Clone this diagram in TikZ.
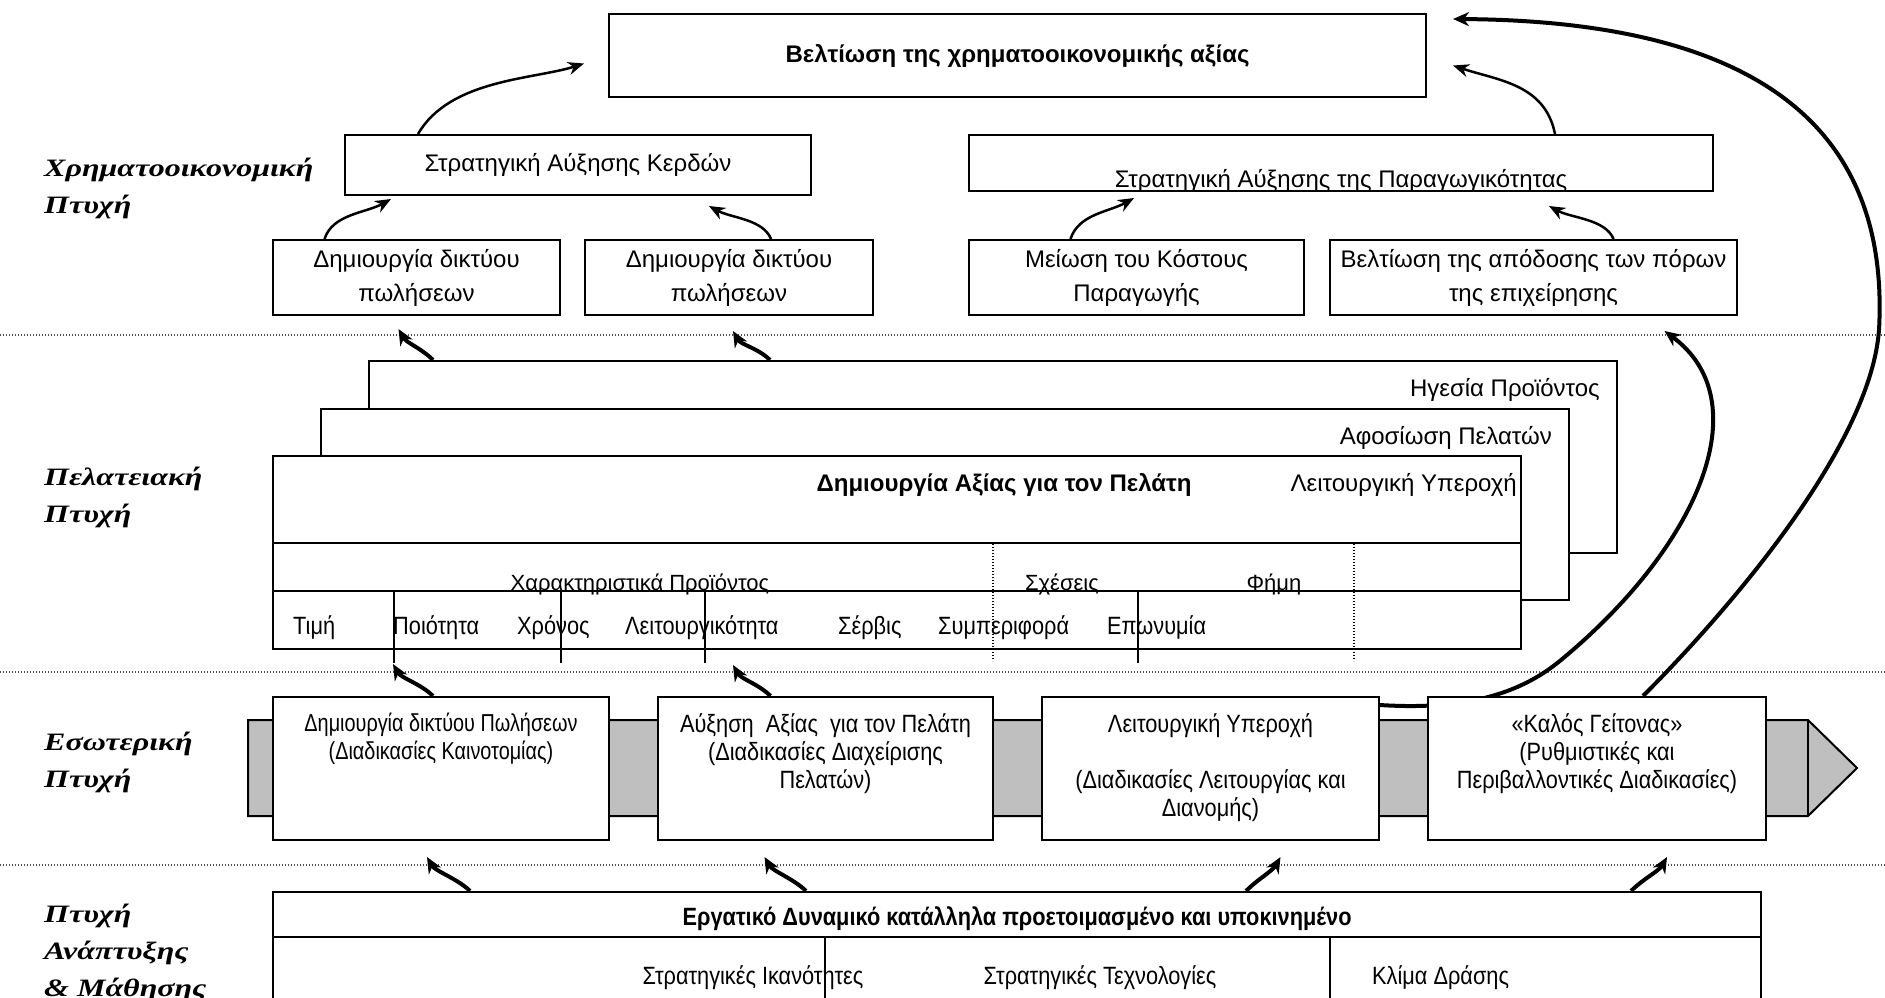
\documentclass[tikz,border=0pt]{standalone}
\usepackage{fontspec}
\setmainfont{Liberation Sans}
\newfontfamily\narrowfont{Liberation Sans}[FakeStretch=0.87]
\newfontfamily\narrowerfont{Liberation Sans}[FakeStretch=0.81]
\newfontfamily\sidefont{Liberation Serif}[FakeStretch=1.28]
\usetikzlibrary{arrows.meta, calc, backgrounds}

\begin{document}
\begin{tikzpicture}[x=1pt, y=-1pt,
	box/.style={rectangle, draw, line width=2pt, fill=white, inner sep=0pt, align=center, font=\fontsize{24}{34}\selectfont},
	boldtext/.style={font=\bfseries\fontsize{24}{34}\selectfont, inner sep=0pt},
	plaintext/.style={font=\fontsize{24}{34}\selectfont, inner sep=0pt},
	celltext/.style={font=\fontsize{22}{27}\selectfont, inner sep=0pt},
	narrowtext/.style={font=\narrowfont\fontsize{25}{28}\selectfont, inner sep=0pt},
	proclabel/.style={anchor=north, yshift=-17pt, align=center, inner sep=0pt, font=\narrowfont\fontsize{25}{28}\selectfont},
	cornerlabel/.style={anchor=north east, xshift=-18pt, yshift=-18pt, inner sep=0pt, font=\fontsize{24}{34}\selectfont},
	side/.style={anchor=west, align=left, inner sep=0pt, font=\sidefont\bfseries\itshape\fontsize{25}{37}\selectfont},
	arrow/.style={-{Stealth[length=16pt, width=13pt]}, line width=2.5pt},
	fatarrow/.style={-{Stealth[length=16pt, width=14pt]}, line width=4pt},
	divider/.style={line width=1.3pt, black!70, dash pattern=on 1.3pt off 1.7pt}
	]
	\useasboundingbox (0,0) rectangle (1885,997);

	% side titles
	\node[side] (fin) at (44,188) {Χρηματοοικονομική\\Πτυχή};
	\node[side] (cust) at (44,497) {Πελατειακή\\Πτυχή};
	\node[side] (intl) at (44,762) {Εσωτερική\\Πτυχή};
	\node[side] (grow) at (44,953) {Πτυχή\\Ανάπτυξης\\\& Μάθησης};

	% financial
	\node[box, font=\bfseries\fontsize{24}{34}\selectfont, minimum width=817pt, minimum height=83pt] (value) at (1017.5,55.5) {Βελτίωση της χρηματοοικονομικής αξίας};
	\node[box, minimum width=466pt, minimum height=60pt] (kerdos) at (578,165) {Στρατηγική Αύξησης Κερδών};
	\node[box, minimum width=744pt, minimum height=56pt] (paragog) at (1341,163) {\raisebox{-24pt}[0pt][0pt]{Στρατηγική Αύξησης της Παραγωγικότητας}};
	\node[box, minimum width=287pt, minimum height=75pt] (net1) at (416.5,277.5) {Δημιουργία δικτύου\\πωλήσεων};
	\node[box, minimum width=288pt, minimum height=75pt] (net2) at (729,277.5) {Δημιουργία δικτύου\\πωλήσεων};
	\node[box, minimum width=335pt, minimum height=75pt] (cost) at (1136.5,277.5) {Μείωση του Κόστους\\Παραγωγής};
	\node[box, minimum width=407pt, minimum height=75pt] (perf) at (1533.5,277.5) {Βελτίωση της απόδοσης των πόρων\\της επιχείρησης};

	% customer
	\node[box, minimum width=1248pt, minimum height=192pt, label={[cornerlabel]north east:{Ηγεσία Προϊόντος}}] (hegesia) at (993,457) {};
	\node[box, minimum width=1248pt, minimum height=191pt, label={[cornerlabel]north east:{Αφοσίωση Πελατών}}] (afosiosi) at (945,504.5) {};
	\node[box, minimum width=1248pt, minimum height=193pt] (axia) at (897,552.5) {};
	\coordinate (row1) at ($(axia.north west)+(0,88)$);
	\coordinate (row2) at ($(axia.north west)+(0,136)$);
	\draw[line width=2pt] (row1) -- (row1 -| axia.east);
	\draw[line width=2pt] (row2) -- (row2 -| axia.east);
	\node[boldtext] (axiatitle) at (1004,485) {Δημιουργία Αξίας για τον Πελάτη};
	\node[plaintext, anchor=east] (leitourg) at (1517,485) {Λειτουργική Υπεροχή};
	\node[celltext, anchor=base] (charakt) at (640,590) {Χαρακτηριστικά Προϊόντος};
	\node[celltext, anchor=base] (sxeseis) at (1062,590) {Σχέσεις};
	\node[celltext, anchor=base] (fimi) at (1274,590) {Φήμη};
	\node[narrowtext, anchor=base west] (timi) at (293,634) {Τιμή};
	\node[narrowtext, anchor=base west] (poiotita) at (393,634) {Ποιότητα};
	\node[narrowtext, anchor=base west] (chronos) at (517,634) {Χρόνος};
	\node[narrowtext, anchor=base west] (leitourgikot) at (625,634) {Λειτουργικότητα};
	\node[narrowtext, anchor=base west] (servis) at (838,634) {Σέρβις};
	\node[narrowtext, anchor=base west] (symper) at (938,634) {Συμπεριφορά};
	\node[narrowtext, anchor=base west] (eponymia) at (1107,634) {Επωνυμία};
	\draw[line width=1.5pt] (394,592) -- (394,663);
	\draw[line width=1.5pt] (561,592) -- (561,663);
	\draw[line width=1.5pt] (705,592) -- (705,663);
	\draw[line width=1.5pt] (1138,592) -- (1138,663);
	\draw[divider, black] (993,544) -- (993,661);
	\draw[divider, black] (1354,544) -- (1354,661);

	% internal
	\node[box, minimum width=336pt, minimum height=143pt, label={[proclabel, font=\narrowerfont\fontsize{24.5}{28}\selectfont]north:{Δημιουργία δικτύου Πωλήσεων\\(Διαδικασίες Καινοτομίας)}}] (inn1) at (441,768.5) {};
	\node[box, minimum width=335pt, minimum height=143pt, label={[proclabel]north:{Αύξηση~ Αξίας~ για τον Πελάτη\\(Διαδικασίες Διαχείρισης\\Πελατών)}}] (inn2) at (825.5,768.5) {};
	\node[box, minimum width=337pt, minimum height=143pt, label={[proclabel]north:{Λειτουργική Υπεροχή\\[28pt](Διαδικασίες Λειτουργίας και\\Διανομής)}}] (inn3) at (1210.5,768.5) {};
	\node[box, minimum width=338pt, minimum height=143pt, label={[proclabel]north:{«Καλός Γείτονας»\\(Ρυθμιστικές και\\Περιβαλλοντικές Διαδικασίες)}}] (inn4) at (1597,768.5) {};

	% learning and growth
	\node[box, minimum width=1488pt, minimum height=118pt] (learn) at (1017,951) {};
	\coordinate (row3) at ($(learn.north west)+(0,46)$);
	\draw[line width=2pt] (row3) -- (row3 -| learn.east);
	\node[font=\narrowfont\bfseries\fontsize{25}{28}\selectfont, inner sep=0pt] (workforce) at (1017,919) {Εργατικό Δυναμικό κατάλληλα προετοιμασμένο και υποκινημένο};
	\draw[line width=1.5pt] (825,938) -- (825,1010);
	\draw[line width=1.5pt] (1330,938) -- (1330,1010);
	\node[narrowtext, anchor=base] (ikanot) at (753,984) {Στρατηγικές Ικανότητες};
	\node[narrowtext, anchor=base] (techn) at (1100,984) {Στρατηγικές Τεχνολογίες};
	\node[narrowtext, anchor=base west] (klima) at (1372,984) {Κλίμα Δράσης};

	% arrows between levels
	\draw[arrow] ($(kerdos.north)+(-160,0)$) .. controls +(32,-55) and +(-50,16) .. ($(value.west)+(-24,8)$);
	\draw[arrow] ($(paragog.north)+(214,0)$) .. controls +(-10,-50) and +(45,15) .. ($(value.east)+(26,10)$);
	\draw[arrow] ($(net1.north)+(-92,0)$) .. controls +(8,-25) and +(-25,14) .. ($(kerdos.south)+(-187,3)$);
	\draw[arrow] ($(net2.north)+(42,0)$) .. controls +(-8,-20) and +(22,12) .. ($(kerdos.south)+(131,10)$);
	\draw[arrow] ($(cost.north)+(-66,0)$) .. controls +(8,-25) and +(-25,14) .. ($(paragog.south)+(-207,6)$);
	\draw[arrow] ($(perf.north)+(80,0)$) .. controls +(-8,-20) and +(22,12) .. ($(paragog.south)+(208,14)$);

	\draw[fatarrow] ($(hegesia.north)+(-560,0)$) .. controls +(-12,-12) and +(8,14) .. ($(net1.south)+(-18,13)$);
	\draw[fatarrow] ($(hegesia.north)+(-223,0)$) .. controls +(-12,-12) and +(8,14) .. ($(net2.south)+(4,15)$);
	\draw[fatarrow] ($(inn1.north)+(-8,0)$) .. controls +(-12,-12) and +(8,14) .. ($(axia.south)+(-504,14)$);
	\draw[fatarrow] ($(inn2.north)+(-55,0)$) .. controls +(-12,-12) and +(8,14) .. ($(axia.south)+(-164,15)$);
	\draw[fatarrow] ($(learn.north)+(-547,0)$) .. controls +(-12,-12) and +(8,14) .. ($(inn1.south)+(-14,16)$);
	\draw[fatarrow] ($(learn.north)+(-211,0)$) .. controls +(-12,-12) and +(8,14) .. ($(inn2.south)+(-61,16)$);
	\draw[fatarrow] ($(learn.north)+(229,0)$) .. controls +(12,-12) and +(-8,14) .. ($(inn3.south)+(70,16)$);
	\draw[fatarrow] ($(learn.north)+(614,0)$) .. controls +(12,-12) and +(-8,14) .. ($(inn4.south)+(70,16)$);

	% long arrows on the right
	\coordinate (bendA) at (1561,660);
	\coordinate (bendB) at (1879,330);
	\draw[fatarrow] ($(inn4.north)+(46,0)$) .. controls +(77,-77) and +(-9,120) .. (bendB) .. controls +(11,-200) and +(308,2) .. ($(value.north east)+(26,6)$);

	\begin{scope}[on background layer]
		\draw[divider] (0,335) -- (1885,335);
		\draw[divider] (0,672) -- (1885,672);
		\draw[divider] (0,865) -- (1885,865);
		\filldraw[fill=black!25, line width=2pt] (248,720) -- (1808,720) -- (1857,768) -- (1808,816) -- (248,816) -- cycle;
		\draw[line width=2pt] (1808,720) -- (1808,816);
		\draw[fatarrow] ($(inn3.north east)+(0,9)$) .. controls +(93,6) and +(-36,30) .. (bendA) .. controls +(139,-115) and +(95,70) .. ($(perf.south)+(131,15)$);
	\end{scope}
\end{tikzpicture}
\end{document}
